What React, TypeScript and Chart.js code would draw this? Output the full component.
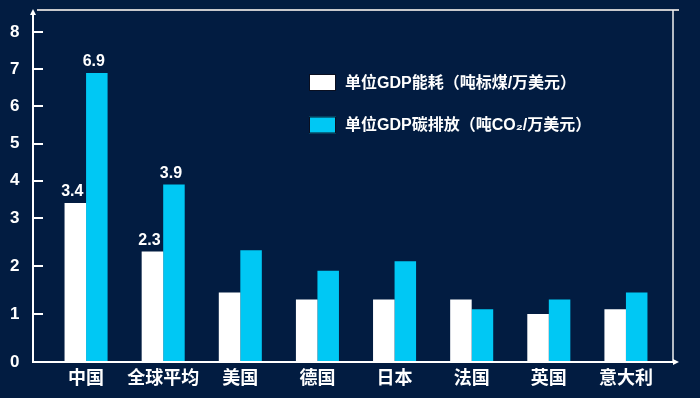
import React, { useEffect, useRef } from "react";
import { Chart, registerables, LinearScale } from "chart.js";

Chart.register(...registerables);

// ---- data ----
const categories = ["中国", "全球平均", "美国", "德国", "日本", "法国", "英国", "意大利"];
const energyLabel = "单位GDP能耗（吨标煤/万美元）";
const carbonLabel = "单位GDP碳排放（吨CO₂/万美元）";
const energyValues = [3.4, 2.3, 1.45, 1.3, 1.3, 1.3, 1.0, 1.1];
const carbonValues = [6.9, 3.9, 2.33, 1.9, 2.1, 1.1, 1.3, 1.45];
const labeledCategories = ["中国", "全球平均"];
const yTicks = [0, 1, 2, 3, 4, 5, 6, 7, 8];

const BG = "#021c41";
const WHITE = "#ffffff";
const CYAN = "#00c8f4";
const LATIN_CJK = '"Liberation Sans", Arial, "Noto Sans CJK SC", sans-serif';

// The original axis is drawn with a wider unit below 3 than above it.
const BREAK = 3;
const LOWER_UNIT = 48;
const UPPER_UNIT = 37.2;
const warp = (v: number) => (v <= BREAK ? v * LOWER_UNIT : BREAK * LOWER_UNIT + (v - BREAK) * UPPER_UNIT);
const unwarp = (w: number) =>
  w <= BREAK * LOWER_UNIT ? w / LOWER_UNIT : BREAK + (w - BREAK * LOWER_UNIT) / UPPER_UNIT;

class PiecewiseScale extends (LinearScale as any) {
  static id = "piecewise";
  static defaults = { ...(LinearScale as any).defaults };
  getPixelForValue(value: any) {
    if (value === null || value === undefined || isNaN(value)) return NaN;
    return (this as any).getPixelForDecimal(warp(value) / warp((this as any).max));
  }
  getValueForPixel(pixel: number) {
    return unwarp((this as any).getDecimalForPixel(pixel) * warp((this as any).max));
  }
}
Chart.register(PiecewiseScale as any);

const framePlugin = {
  id: "frame",
  afterDraw(chart: any) {
    const { ctx, chartArea } = chart;
    const y = chart.scales.y;
    const axisX = chartArea.left - 14.5;
    const base = chartArea.bottom;
    const topY = 10;
    const rightX = chartArea.right + 8.5;
    ctx.save();
    // top gray line
    ctx.strokeStyle = "#c8c8cc";
    ctx.lineWidth = 2;
    ctx.beginPath();
    ctx.moveTo(axisX + 4, topY);
    ctx.lineTo(rightX + 6, topY);
    ctx.stroke();
    // right line
    ctx.strokeStyle = "#f0f0f0";
    ctx.lineWidth = 1.5;
    ctx.beginPath();
    ctx.moveTo(rightX, topY);
    ctx.lineTo(rightX, base);
    ctx.stroke();
    // y axis
    ctx.strokeStyle = WHITE;
    ctx.lineWidth = 2;
    ctx.beginPath();
    ctx.moveTo(axisX, base);
    ctx.lineTo(axisX, topY + 2);
    ctx.stroke();
    ctx.fillStyle = WHITE;
    ctx.beginPath();
    ctx.moveTo(axisX, topY - 1);
    ctx.lineTo(axisX - 3, topY + 5);
    ctx.lineTo(axisX + 3, topY + 5);
    ctx.closePath();
    ctx.fill();
    // tick marks (inside)
    ctx.lineWidth = 2;
    for (const t of yTicks) {
      if (t === 0) continue;
      const py = Math.round(y.getPixelForValue(t));
      ctx.beginPath();
      ctx.moveTo(axisX, py);
      ctx.lineTo(axisX + 10, py);
      ctx.stroke();
    }
    // x axis
    ctx.beginPath();
    ctx.moveTo(axisX - 1, base);
    ctx.lineTo(rightX + 3, base);
    ctx.stroke();
    ctx.beginPath();
    ctx.moveTo(rightX + 6, base);
    ctx.lineTo(rightX, base - 3);
    ctx.lineTo(rightX, base + 3);
    ctx.closePath();
    ctx.fill();

    // value labels
    ctx.font = `bold 16px ${LATIN_CJK}`;
    ctx.textAlign = "center";
    ctx.textBaseline = "alphabetic";
    ctx.fillStyle = WHITE;
    chart.data.datasets.forEach((ds: any, di: number) => {
      const meta = chart.getDatasetMeta(di);
      meta.data.forEach((bar: any, i: number) => {
        if (!labeledCategories.includes(categories[i])) return;
        ctx.fillText(ds.data[i].toFixed(1), bar.x - 3, bar.y - 7);
      });
    });

    // legend
    ctx.font = `bold 16px ${LATIN_CJK}`;
    ctx.textAlign = "left";
    ctx.textBaseline = "middle";
    const legendY = [82.5, 125];
    chart.data.datasets.forEach((ds: any, di: number) => {
      const cy = legendY[di];
      ctx.fillStyle = ds.backgroundColor;
      ctx.fillRect(309, cy - 8.5, 27, 17);
      ctx.strokeStyle = "#0a0f20";
      ctx.lineWidth = 1;
      ctx.strokeRect(309.5, cy - 8, 26, 16);
      ctx.fillStyle = WHITE;
      ctx.fillText(ds.label, 345, cy + 1);
    });
    ctx.restore();
  },
};

export default function App() {
  const ref = useRef<HTMLCanvasElement | null>(null);
  useEffect(() => {
    if (!ref.current) return;
    const chart = new Chart(ref.current, {
      type: "bar",
      data: {
        labels: categories,
        datasets: [
          { label: energyLabel, data: energyValues, backgroundColor: WHITE, borderWidth: 0 },
          { label: carbonLabel, data: carbonValues, backgroundColor: CYAN, borderWidth: 0 },
        ],
      },
      options: {
        responsive: false,
        animation: false,
        devicePixelRatio: 1,
        layout: { padding: { left: 10, right: 35.5, top: 32, bottom: 0 } },
        datasets: { bar: { categoryPercentage: 0.558, barPercentage: 1 } },
        plugins: { legend: { display: false }, tooltip: { enabled: false } },
        scales: {
          x: {
            type: "category",
            grid: { display: false, drawTicks: false },
            border: { display: false },
            ticks: {
              color: WHITE,
              padding: 6,
              maxRotation: 0,
              minRotation: 0,
              autoSkip: false,
              font: { family: LATIN_CJK, size: 18, weight: "bold" },
            },
            afterFit: (s: any) => {
              s.height = 36;
            },
          },
          y: {
            type: "piecewise" as any,
            min: 0,
            max: 8,
            grid: { display: false, drawTicks: false },
            border: { display: false },
            ticks: {
              stepSize: 1,
              color: WHITE,
              padding: 0,
              crossAlign: "far",
              font: { family: LATIN_CJK, size: 17, weight: "bold" },
            },
            afterFit: (s: any) => {
              s.width = 37.5;
            },
          },
        },
      } as any,
      plugins: [framePlugin],
    });
    return () => chart.destroy();
  }, []);
  return (
    <div style={{ position: "fixed", left: 0, top: 0, width: 700, height: 398, background: BG }}>
      <canvas ref={ref} width={700} height={398} style={{ display: "block" }} />
    </div>
  );
}
